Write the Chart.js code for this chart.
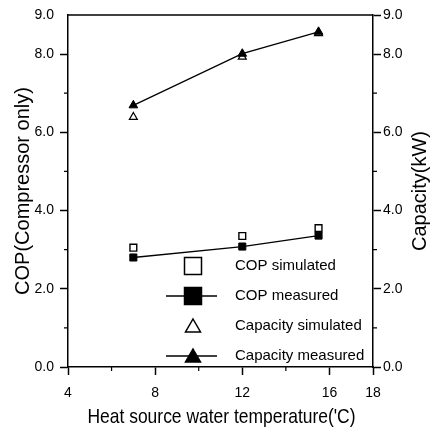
<!DOCTYPE html>
<html>
<head>
<meta charset="utf-8">
<script src="https://cdn.jsdelivr.net/npm/chart.js@4"></script>
<style>
  html, body { margin: 0; padding: 0; background: #fff; }
  #caja { width: 431px; height: 429px; }
</style>
</head>
<body>
<div id="caja"><canvas id="grafico" width="431" height="429"></canvas></div>
<script>
// Temperatura del agua de la fuente de calor (°C)
const temperaturas = [7.0, 12.0, 15.5];

// COP (solo compresor)
const copSimulado = [3.05, 3.35, 3.55];
const copMedido = [2.80, 3.08, 3.36];

// Capacidad (kW)
const capacidadSimulada = [6.39, 7.93, 8.53];
const capacidadMedida = [6.69, 8.01, 8.57];

// Marcas de los ejes (las que no llevan etiqueta son marcas menores)
const ticksX = [4, 6, 8, 10, 12, 14, 16, 18];
const etiquetasX = [4, 8, 12, 16, 18];
const ticksY = [0, 1, 2, 3, 4, 5, 6, 7, 8, 9];
const etiquetasY = [0, 2, 4, 6, 8, 9];

// Nombres de las series y titulos
const nombres = ['Capacity measured', 'COP measured', 'COP simulated', 'Capacity simulated'];
const tituloX = "Heat source water temperature('C)";
const tituloY = 'COP(Compressor only)';
const tituloY1 = 'Capacity(kW)';

const fuente = "'Liberation Sans', Arial, sans-serif";
Chart.defaults.font.family = fuente;
Chart.defaults.color = '#000';

// Junta las temperaturas con los valores de una serie
function puntos(valores) {
    return temperaturas.map((t, i) => ({ x: t, y: valores[i] }));
}

function esMayor(valor, etiquetas) {
    return etiquetas.includes(valor);
}

// Configuracion comun de los ejes verticales
function ejeY(posicion, ancho, relleno, marcaArriba, titulo) {
    return {
        type: 'linear',
        position: posicion,
        min: 0,
        max: 9,
        afterBuildTicks: eje => { eje.ticks = ticksY.map(v => ({ value: v })); },
        afterFit: eje => { eje.width = ancho; },
        ticks: {
            autoSkip: false,
            padding: relleno,
            font: { size: 14 },
            callback: v => esMayor(v, etiquetasY) ? v.toFixed(1) : ''
        },
        grid: {
            drawOnChartArea: false,
            tickLength: 8,
            tickWidth: 1.5,
            tickColor: ctx => {
                const v = ctx.tick.value;
                if (v === 9 && !marcaArriba) return 'rgba(0,0,0,0)';
                return esMayor(v, etiquetasY) ? '#000' : 'rgba(0,0,0,0)';
            }
        },
        border: { color: '#000', width: 1.5 },
        title: titulo
    };
}

// Marco superior, marcas menores hacia afuera y titulos dibujados a mano
const marco = {
    id: 'marco',
    afterDraw(chart) {
        const { ctx, chartArea, scales } = chart;
        ctx.save();
        ctx.strokeStyle = '#000';
        ctx.lineWidth = 1.5;
        ctx.beginPath();
        ctx.moveTo(chartArea.left, chartArea.top);
        ctx.lineTo(chartArea.right, chartArea.top);
        ctx.stroke();

        ctx.lineWidth = 1.2;
        ctx.beginPath();
        ticksX.filter(v => !esMayor(v, etiquetasX)).forEach(v => {
            const x = scales.x.getPixelForValue(v);
            ctx.moveTo(x, chartArea.bottom);
            ctx.lineTo(x, chartArea.bottom + 4);
        });
        ticksY.filter(v => !esMayor(v, etiquetasY)).forEach(v => {
            const y = scales.y.getPixelForValue(v);
            ctx.moveTo(chartArea.left, y);
            ctx.lineTo(chartArea.left - 4, y);
            ctx.moveTo(chartArea.right, y);
            ctx.lineTo(chartArea.right + 4, y);
        });
        ctx.stroke();

        ctx.fillStyle = '#000';
        ctx.textAlign = 'center';
        ctx.textBaseline = 'middle';
        const centroX = (chartArea.left + chartArea.right) / 2;
        const centroY = (chartArea.top + chartArea.bottom) / 2;

        // titulo del eje x, algo estrecho
        ctx.font = '21px ' + fuente;
        const ancho = ctx.measureText(tituloX).width;
        const escala = Math.min(1, 268 / ancho);
        ctx.save();
        ctx.translate(centroX + 1, 417);
        ctx.scale(escala, 1);
        ctx.fillText(tituloX, 0, 0);
        ctx.restore();

        // titulo del eje derecho, leido de abajo hacia arriba
        ctx.font = '20px ' + fuente;
        ctx.save();
        ctx.translate(420, centroY);
        ctx.rotate(-Math.PI / 2);
        ctx.fillText(tituloY1, 0, 0);
        ctx.restore();
        ctx.restore();
    }
};

// Leyenda dentro del area del grafico
const leyenda = {
    id: 'leyenda',
    afterDraw(chart) {
        const ctx = chart.ctx;
        const filas = [
            { texto: nombres[2], forma: 'cuadro', relleno: '#fff', linea: false },
            { texto: nombres[1], forma: 'cuadro', relleno: '#000', linea: true },
            { texto: nombres[3], forma: 'triangulo', relleno: '#fff', linea: false },
            { texto: nombres[0], forma: 'triangulo', relleno: '#000', linea: true }
        ];
        const xs = 193;
        ctx.save();
        ctx.font = '15px ' + fuente;
        ctx.textBaseline = 'middle';
        ctx.fillStyle = '#000';
        ctx.strokeStyle = '#000';
        filas.forEach((f, i) => {
            const y = 266 + i * 30;
            if (f.linea) {
                ctx.lineWidth = 1.3;
                ctx.beginPath();
                ctx.moveTo(166, y);
                ctx.lineTo(217, y);
                ctx.stroke();
            }
            ctx.lineWidth = 1.5;
            ctx.fillStyle = f.relleno;
            ctx.beginPath();
            if (f.forma === 'cuadro') {
                ctx.rect(xs - 8.5, y - 8.5, 17, 17);
            } else {
                ctx.moveTo(xs, y - 7);
                ctx.lineTo(xs + 7.5, y + 6);
                ctx.lineTo(xs - 7.5, y + 6);
                ctx.closePath();
            }
            ctx.fill();
            ctx.stroke();
            ctx.fillStyle = '#000';
            ctx.fillText(f.texto, 235, y);
        });
        ctx.restore();
    }
};

const grafico = new Chart(document.getElementById('grafico').getContext('2d'), {
    type: 'line',
    data: {
        datasets: [
            {
                label: nombres[0],
                data: puntos(capacidadMedida),
                yAxisID: 'y1',
                borderColor: '#000',
                backgroundColor: '#000',
                borderWidth: 1.3,
                pointStyle: 'triangle',
                pointRadius: 5,
                pointBorderWidth: 1
            },
            {
                label: nombres[1],
                data: puntos(copMedido),
                yAxisID: 'y',
                borderColor: '#000',
                backgroundColor: '#000',
                borderWidth: 1.3,
                pointStyle: 'rect',
                pointRadius: 5,
                pointBorderWidth: 1
            },
            {
                label: nombres[2],
                data: puntos(copSimulado),
                yAxisID: 'y',
                showLine: false,
                borderColor: '#000',
                backgroundColor: '#fff',
                pointStyle: 'rect',
                pointRadius: 4.8,
                pointBorderWidth: 1.4
            },
            {
                label: nombres[3],
                data: puntos(capacidadSimulada),
                yAxisID: 'y1',
                showLine: false,
                borderColor: '#000',
                backgroundColor: '#fff',
                pointStyle: 'triangle',
                pointRadius: 4.6,
                pointBorderWidth: 1.2
            }
        ]
    },
    options: {
        responsive: false,
        animation: false,
        layout: { padding: { top: 15, left: 0, right: 0, bottom: 0 } },
        plugins: { legend: { display: false }, tooltip: { enabled: false } },
        scales: {
            x: {
                type: 'linear',
                min: 4,
                max: 18,
                afterBuildTicks: eje => { eje.ticks = ticksX.map(v => ({ value: v })); },
                afterFit: eje => { eje.height = 62; },
                ticks: {
                    autoSkip: false,
                    maxRotation: 0,
                    padding: 10,
                    font: { size: 14 },
                    callback: v => esMayor(v, etiquetasX) ? v : ''
                },
                grid: {
                    drawOnChartArea: false,
                    tickLength: 8,
                    tickWidth: 1.5,
                    tickColor: ctx => esMayor(ctx.tick.value, etiquetasX) ? '#000' : 'rgba(0,0,0,0)'
                },
                border: { color: '#000', width: 1.5 }
            },
            y: ejeY('left', 68, 6, false, {
                display: true,
                text: tituloY,
                font: { size: 20 },
                padding: { top: 11, bottom: 0 }
            }),
            y1: ejeY('right', 58, 2, true, { display: false })
        }
    },
    plugins: [marco, leyenda]
});
</script>
</body>
</html>
